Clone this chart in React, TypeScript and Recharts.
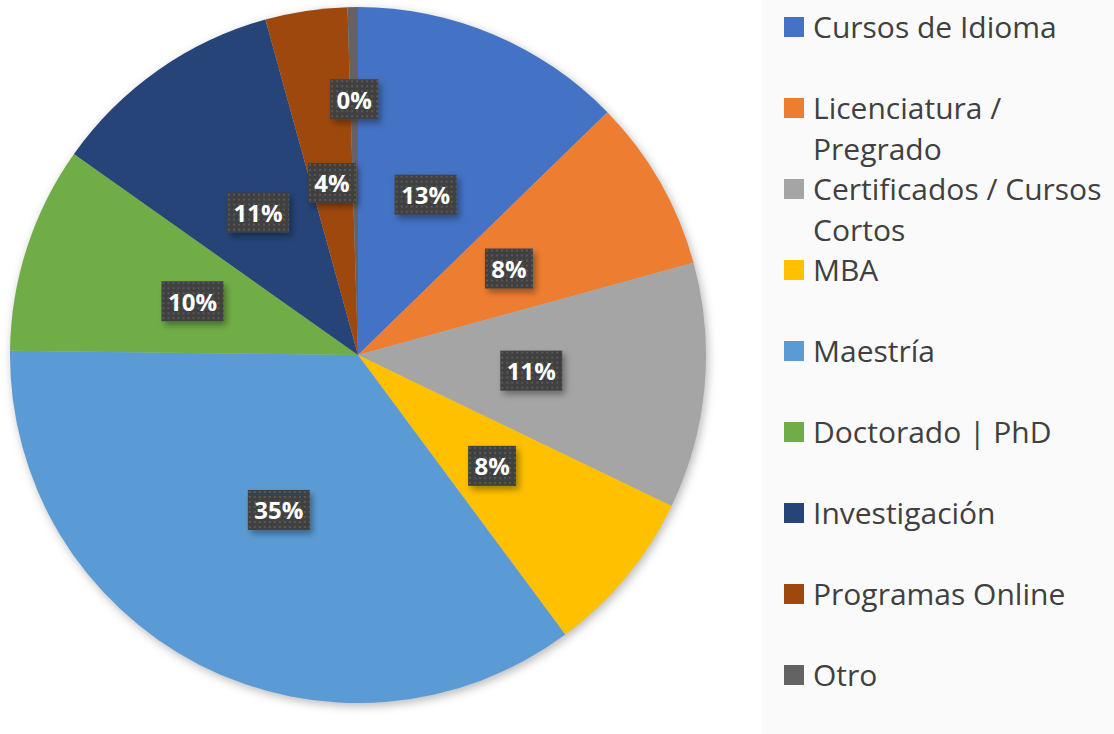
import React from 'react';
import { PieChart, Pie, Cell, Legend } from 'recharts';

const categories = [
  'Cursos de Idioma',
  'Licenciatura / Pregrado',
  'Certificados / Cursos Cortos',
  'MBA',
  'Maestría',
  'Doctorado | PhD',
  'Investigación',
  'Programas Online',
  'Otro',
];
const values = [12.7, 8.0, 11.4, 7.7, 35.3, 9.6, 10.9, 3.8, 0.48];
const colors = ['#4472C4', '#ED7D31', '#A5A5A5', '#FFC000', '#5B9BD5', '#70AD47', '#264478', '#9E480E', '#636363'];

const data = categories.map((name, i) => ({ name, value: values[i] }));

const RAD = Math.PI / 180;

const renderLabel = (props: any) => {
  const { cx, cy, midAngle, outerRadius, percent, index } = props;
  const factor = percent < 0.01 ? 0.735 : 0.5;
  const r = outerRadius * factor;
  const x = cx + r * Math.cos(-midAngle * RAD);
  const y = cy + r * Math.sin(-midAngle * RAD);
  const text = `${Math.round(percent * 100)}%`;
  const w = 14 * text.length + 20;
  const h = 40;
  const pid = `dots-${index}`;
  const fid = `lblshadow-${index}`;
  return (
    <g key={`lbl-${index}`}>
      <defs>
        <pattern id={pid} width="5" height="5" patternUnits="userSpaceOnUse" x={x - w / 2} y={y - h / 2}>
          <rect width="5" height="5" fill="#404040" />
          <rect x="1" y="1" width="2" height="2" fill="#585858" />
        </pattern>
        <filter id={fid} x="-30%" y="-30%" width="160%" height="170%">
          <feDropShadow dx="3" dy="4" stdDeviation="3" floodColor="#000" floodOpacity="0.35" />
        </filter>
      </defs>
      <rect x={x - w / 2} y={y - h / 2} width={w} height={h} fill={`url(#${pid})`} filter={`url(#${fid})`} />
      <text
        x={x}
        y={y}
        fill="#FFFFFF"
        textAnchor="middle"
        dominantBaseline="central"
        fontFamily="'Open Sans', sans-serif"
        fontWeight={700}
        fontSize={24}
      >
        {text}
      </text>
    </g>
  );
};

const renderLegend = () => (
  <div
    style={{
      width: 352,
      height: 734,
      background: '#FAFAFA',
      boxSizing: 'border-box',
      paddingTop: 6,
      fontFamily: "'Open Sans', sans-serif",
      fontSize: 30,
      color: '#404040',
    }}
  >
    {categories.map((name, i) => (
      <div key={name} style={{ height: 81, position: 'relative' }}>
        <div
          style={{
            position: 'absolute',
            left: 22,
            top: 11,
            width: 20,
            height: 20,
            background: colors[i],
          }}
        />
        <div
          style={{
            position: 'absolute',
            left: 51,
            top: 0,
            width: 299,
            lineHeight: '41px',
            whiteSpace: 'normal',
          }}
        >
          {name}
        </div>
      </div>
    ))}
  </div>
);

export default function App() {
  return (
    <div style={{ position: 'absolute', left: 0, top: 0, width: 1114, height: 734, background: '#FFFFFF' }}>
      <style>{`.recharts-pie-sector { } .recharts-pie { filter: drop-shadow(2px 3px 5px rgba(0,0,0,0.28)); }`}</style>
      <PieChart width={1114} height={734} margin={{ top: 0, right: 0, bottom: 0, left: 0 }}>
        <Pie
          data={data}
          dataKey="value"
          nameKey="name"
          cx={358}
          cy={355}
          outerRadius={348}
          startAngle={90}
          endAngle={-270}
          stroke="none"
          label={renderLabel}
          labelLine={false}
          isAnimationActive={false}
        >
          {data.map((d, i) => (
            <Cell key={d.name} fill={colors[i]} />
          ))}
        </Pie>
        <Legend
          layout="vertical"
          align="right"
          verticalAlign="top"
          content={renderLegend}
          wrapperStyle={{ left: 762, top: 0, right: 'auto', width: 352, height: 734 }}
        />
      </PieChart>
    </div>
  );
}
